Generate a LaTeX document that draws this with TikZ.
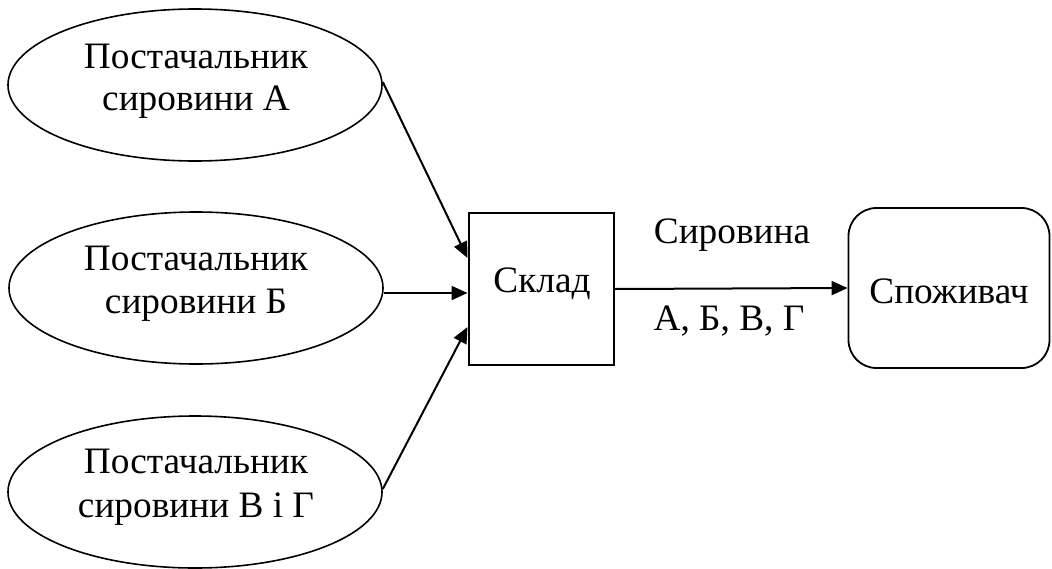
\documentclass[tikz,border=0pt]{standalone}
\usepackage{fontspec}
\setmainfont{Liberation Serif}
\usetikzlibrary{shapes.geometric,arrows.meta}
\tikzset{
  supplier/.style={ellipse,draw,line width=1.6pt,minimum width=374pt,minimum height=152pt,inner sep=0pt},
  txt/.style={font=\fontsize{37.3}{43}\selectfont,anchor=base,inner sep=0pt},
  stock/.style={rectangle,draw,line width=2pt,minimum width=145pt,minimum height=152pt,inner sep=0pt},
  consumer/.style={rectangle,draw,line width=1.8pt,rounded corners=28pt,minimum width=201pt,minimum height=160pt,inner sep=0pt},
  arr/.style={line width=2pt,-{Triangle[length=16pt,width=14pt]}}
}
\begin{document}
\begin{tikzpicture}[x=1pt,y=-1pt]
\useasboundingbox (0,0) rectangle (1052,568);
\node[supplier] (A) at (195,85) {};
\node[supplier] (B) at (196,288) {};
\node[supplier] (C) at (195,492) {};
\node[txt] (a1) at (196,68) {Постачальник};
\node[txt] (a2) at (196,110) {сировини А};
\node[txt] (b1) at (196,270) {Постачальник};
\node[txt] (b2) at (196,313) {сировини Б};
\node[txt] (c1) at (196,473) {Постачальник};
\node[txt] (c2) at (196,517) {сировини В і Г};
\node[stock] (S) at (541,289) {};
\node[txt] (s) at (542,292) {Склад};
\node[consumer] (P) at (949,288) {};
\node[txt] (p) at (949,303) {Споживач};
\node[txt] (l1) at (732,243) {Сировина};
\node[txt] (l2) at (729,330) {А, Б, В, Г};
\draw[arr] ([yshift=3pt]A.east) -- ([yshift=31pt]S.west);
\draw[arr] ([yshift=-5pt]B.east) -- ([yshift=-4pt]S.west);
\draw[arr] ([yshift=3pt]C.east) -- ([yshift=-38pt]S.west);
\draw[arr] (S.east) -- (P.west);
\end{tikzpicture}
\end{document}
